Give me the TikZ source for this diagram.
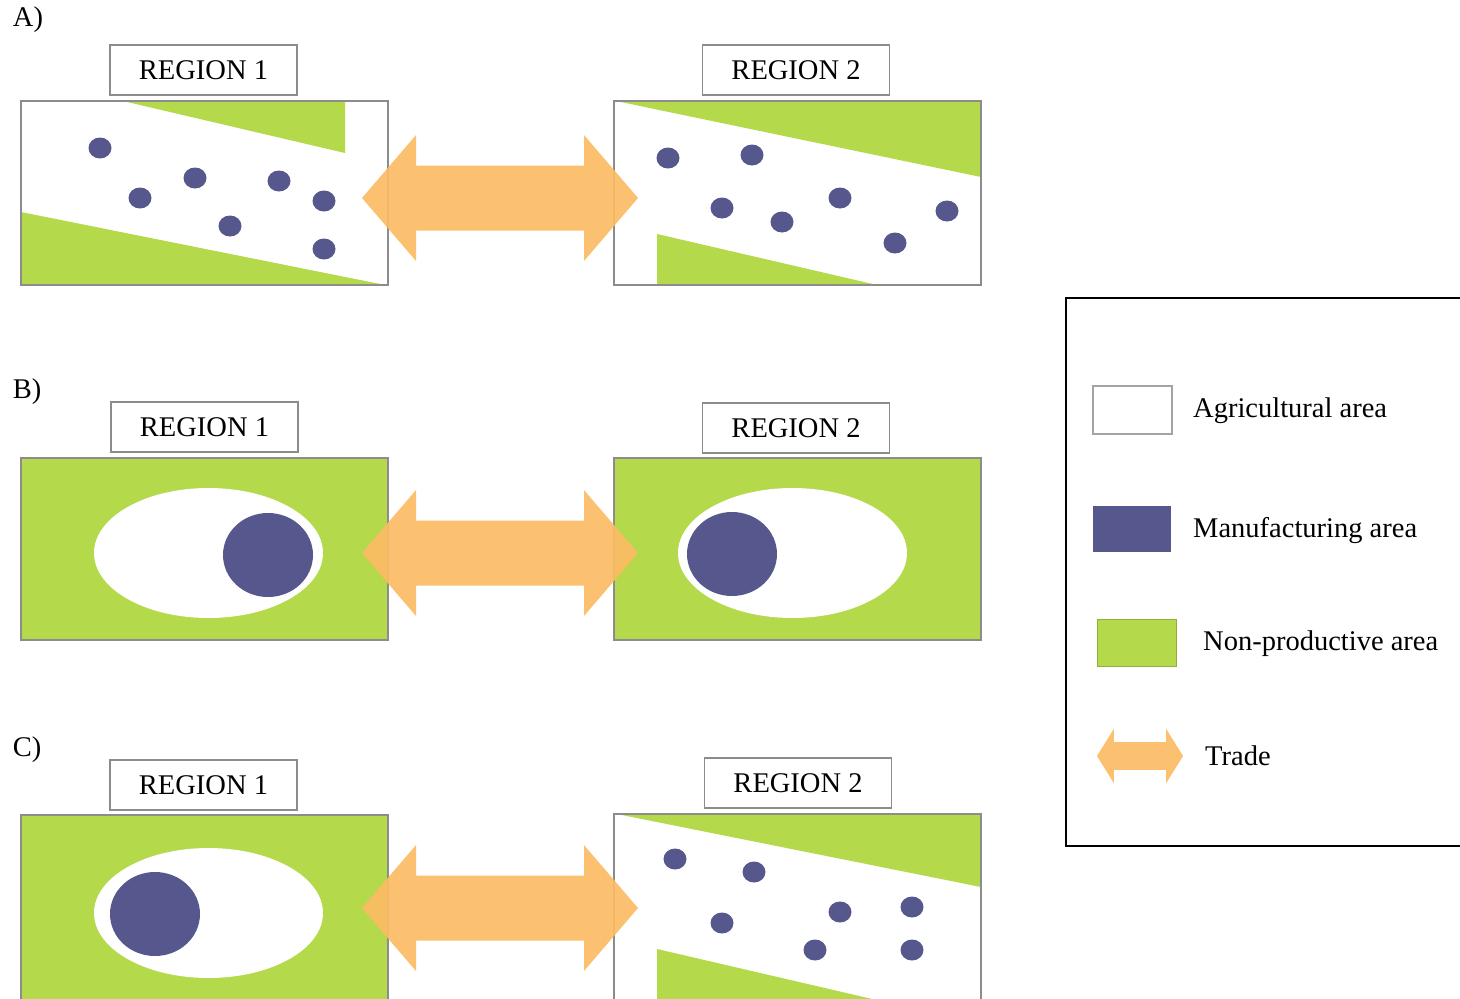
\documentclass[tikz,border=0pt]{standalone}
\usepackage{fontspec}
\setmainfont{Liberation Serif}

\definecolor{vert}{RGB}{180,217,74}
\definecolor{indigo}{RGB}{86,87,140}
\definecolor{commerce}{RGB}{252,188,100}
\definecolor{gris}{RGB}{140,140,140}

\tikzset{
  etiquette/.style={draw=gris, line width=1.5pt, fill=white, minimum width=187pt,
    minimum height=50pt, inner sep=0pt, font=\fontsize{28.5}{33}\selectfont},
  lettre/.style={inner sep=0pt, font=\fontsize{28.5}{33}\selectfont},
  legende/.style={anchor=west, inner sep=0pt, font=\fontsize{28.5}{33}\selectfont},
  cadre/.style={draw=gris, line width=1.5pt},
  friche/.style={fill=vert},
  usine/.style={fill=indigo},
  echange/.pic={
    \fill[commerce, opacity=0.92] (-138,0) -- (-84,63) -- (-84,32.5) -- (84,32.5) -- (84,63)
      -- (138,0) -- (84,-63) -- (84,-32.5) -- (-84,-32.5) -- (-84,-63) -- cycle;
  }
}

\begin{document}
\begin{tikzpicture}[x=1pt, y=-1pt]
    \useasboundingbox (0,0) rectangle (1460,999);
    \clip (0,0) rectangle (1460,999);

    % A) : deux regions agricoles
    \node[lettre] (lettreA) at (28,20) {A)};
    \fill[white] (21,101) rectangle (388,285);
    \fill[friche] (123,101) -- (345,101) -- (345,153) -- cycle;
    \fill[friche] (21,212) -- (21,285) -- (385,285) -- cycle;
    \foreach \x/\y in {100/148, 140/198, 195/178, 230/226, 279/181, 324/201, 324/249}
      \fill[usine] (\x,\y) ellipse[x radius=11.5pt, y radius=10.5pt];
    \draw[cadre] (21,101) rectangle (388,285);
    \fill[white] (614,101) rectangle (981,285);
    \fill[friche] (616,101) -- (981,101) -- (981,177) -- cycle;
    \fill[friche] (657,234) -- (657,285) -- (877,285) -- cycle;
    \foreach \x/\y in {668/158, 752/155, 722/208, 782/222, 840/198, 895/243, 947/211}
      \fill[usine] (\x,\y) ellipse[x radius=11.5pt, y radius=10.5pt];
    \draw[cadre] (614,101) rectangle (981,285);
    \node[etiquette] (regA1) at (203.5,70) {REGION 1};
    \node[etiquette] (regA2) at (796,70) {REGION 2};
    \pic (echA) at (500,198) {echange};

    % B) : deux villes
    \node[lettre] (lettreB) at (27,392) {B)};
    \draw[cadre, friche] (21,458) rectangle (388,640);
    \fill[white] (208.5,553) ellipse[x radius=114.5pt, y radius=65pt];
    \fill[usine] (268,555) ellipse[x radius=45pt, y radius=42pt];
    \draw[cadre, friche] (614,458) rectangle (981,640);
    \fill[white] (792.5,553) ellipse[x radius=114.5pt, y radius=65pt];
    \fill[usine] (732,554) ellipse[x radius=45pt, y radius=42pt];
    \node[etiquette] (regB1) at (204.5,427) {REGION 1};
    \node[etiquette] (regB2) at (796,428) {REGION 2};
    \pic (echB) at (500,553) {echange};

    % C) : une ville et une region agricole
    \node[lettre] (lettreC) at (27,750) {C)};
    \draw[cadre, friche] (21,815) rectangle (388,1005);
    \fill[white] (208.5,913) ellipse[x radius=114.5pt, y radius=65pt];
    \fill[usine] (155,914) ellipse[x radius=45pt, y radius=42pt];
    \fill[white] (614,814) rectangle (981,1005);
    \fill[friche] (617,814) -- (981,814) -- (981,887) -- cycle;
    \fill[friche] (657,949) -- (657,1005) -- (898,1005) -- cycle;
    \foreach \x/\y in {675/859, 754/872, 722/923, 840/912, 912/907, 815/950, 912/950}
      \fill[usine] (\x,\y) ellipse[x radius=11.5pt, y radius=10.5pt];
    \draw[cadre] (614,814) rectangle (981,1005);
    \node[etiquette] (regC1) at (203.5,785) {REGION 1};
    \node[etiquette] (regC2) at (798,783) {REGION 2};
    \pic (echC) at (500,908) {echange};

    % Legende
    \draw[black, line width=1.5pt] (1066,298) rectangle (1475,846);
    \draw[draw=gris!80, line width=2pt, fill=white] (1093,386) rectangle (1172,434);
    \node[legende] (agri) at (1193,411) {Agricultural area};
    \fill[usine] (1093,506) rectangle (1171,552);
    \node[legende] (manu) at (1193,531) {Manufacturing area};
    \draw[friche, draw=vert!80!black] (1097,619) rectangle (1176,666);
    \node[legende] (nonprod) at (1203,644) {Non-productive area};
    \pic[xscale=0.312, yscale=0.43] (echL) at (1140,756) {echange};
    \node[legende] (trade) at (1205,756) {Trade};
\end{tikzpicture}
\end{document}
